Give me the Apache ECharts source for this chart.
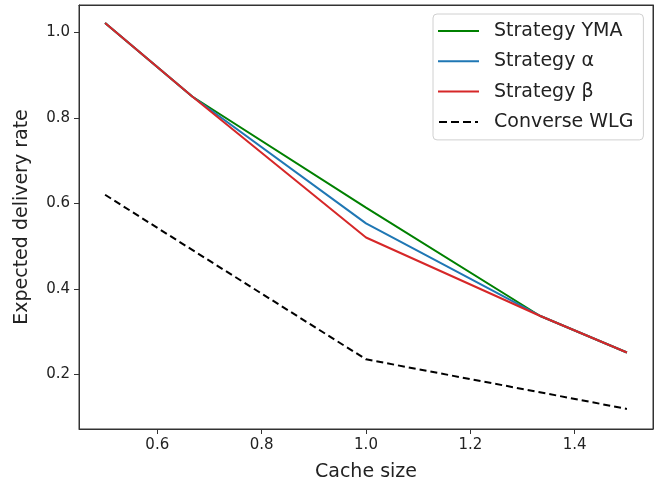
<!DOCTYPE html>
<html>
<head>
<meta charset="utf-8">
<script src="https://cdn.jsdelivr.net/npm/echarts@6/dist/echarts.min.js"></script>
<style>
html,body{margin:0;padding:0;background:#fff;}
#chart{width:669px;height:487px;}
</style>
</head>
<body>
<div id="chart"></div>
<script>
const cacheSize = [0.5, 0.667, 1.0, 1.333, 1.5];
const strategyYMA = [1.022, 0.85, 0.59, 0.337, 0.251];
const strategyAlpha = [1.022, 0.85, 0.553, 0.337, 0.251];
const strategyBeta = [1.022, 0.85, 0.52, 0.337, 0.251];
const converseWLG = [0.62, 0.491, 0.235, 0.158, 0.119];
const xTicks = [0.6, 0.8, 1.0, 1.2, 1.4];
const yTicks = [0.2, 0.4, 0.6, 0.8, 1.0];
const seriesNames = ['Strategy YMA', 'Strategy α', 'Strategy β', 'Converse WLG'];

const pair = ys => cacheSize.map((x, i) => [x, ys[i]]);
const font = 'DejaVu Sans';
const solidIcon = 'path://M0,0h41v2h-41z';
const dashIcon = 'path://M0,0h8v2h-8z M12,0h8v2h-8z M24,0h8v2h-8z M36,0h3v2h-3z';

const chart = echarts.init(document.getElementById('chart'), null, {renderer: 'canvas'});
chart.setOption({
  animation: false,
  backgroundColor: '#fff',
  textStyle: {fontFamily: font},
  grid: {left: 79, top: 5, right: 16, bottom: 56, show: true, borderColor: '#333', borderWidth: 1, backgroundColor: 'transparent', z: 10},
  xAxis: [{
    type: 'value', min: 0.45, max: 1.55,
    name: 'Cache size', nameLocation: 'middle', nameGap: 34,
    nameTextStyle: {fontSize: 19, color: '#222', fontFamily: font},
    axisLine: {show: true, lineStyle: {color: '#333', width: 1}},
    axisTick: {show: true, length: 5, lineStyle: {color: '#333'}, customValues: xTicks},
    axisLabel: {fontSize: 15, color: '#222', margin: 9, fontFamily: font, customValues: xTicks, formatter: v => v.toFixed(1)},
    splitLine: {show: false}
  }, {
    type: 'value', position: 'top', min: 0.45, max: 1.55,
    axisLine: {show: true, onZero: false, lineStyle: {color: '#333', width: 1}},
    axisTick: {show: false}, axisLabel: {show: false}, splitLine: {show: false}
  }],
  yAxis: [{
    type: 'value', min: 0.072, max: 1.064,
    name: 'Expected delivery rate', nameLocation: 'middle', nameGap: 47,
    nameTextStyle: {fontSize: 19, color: '#222', fontFamily: font},
    axisLine: {show: true, lineStyle: {color: '#333', width: 1}},
    axisTick: {show: true, length: 5, lineStyle: {color: '#333'}, customValues: yTicks},
    axisLabel: {fontSize: 15, color: '#222', margin: 9, fontFamily: font, customValues: yTicks, formatter: v => v.toFixed(1)},
    splitLine: {show: false}
  }, {
    type: 'value', position: 'right', min: 0.072, max: 1.064,
    axisLine: {show: true, onZero: false, lineStyle: {color: '#333', width: 1}},
    axisTick: {show: false}, axisLabel: {show: false}, splitLine: {show: false}
  }],
  legend: {
    left: 433, top: 14, orient: 'vertical',
    data: [
      {name: seriesNames[0], icon: solidIcon},
      {name: seriesNames[1], icon: solidIcon},
      {name: seriesNames[2], icon: solidIcon},
      {name: seriesNames[3], icon: dashIcon}
    ],
    itemWidth: 41, itemHeight: 2, itemGap: 8.3,
    padding: [6, 10, 7, 5],
    backgroundColor: '#fff', borderColor: '#d0d0d0', borderWidth: 1, borderRadius: 4,
    textStyle: {fontSize: 19, color: '#222', fontFamily: font, padding: [0, 0, 0, 10], lineHeight: 22}
  },
  series: [
    {name: seriesNames[0], type: 'line', data: pair(strategyYMA), symbol: 'none', lineStyle: {color: '#008000', width: 2}, itemStyle: {color: '#008000'}},
    {name: seriesNames[1], type: 'line', data: pair(strategyAlpha), symbol: 'none', lineStyle: {color: '#1f77b4', width: 2}, itemStyle: {color: '#1f77b4'}},
    {name: seriesNames[2], type: 'line', data: pair(strategyBeta), symbol: 'none', lineStyle: {color: '#d62728', width: 2}, itemStyle: {color: '#d62728'}},
    {name: seriesNames[3], type: 'line', data: pair(converseWLG), symbol: 'none', lineStyle: {color: '#000', width: 2, type: [7, 4]}, itemStyle: {color: '#000'}}
  ]
});
</script>
</body>
</html>
